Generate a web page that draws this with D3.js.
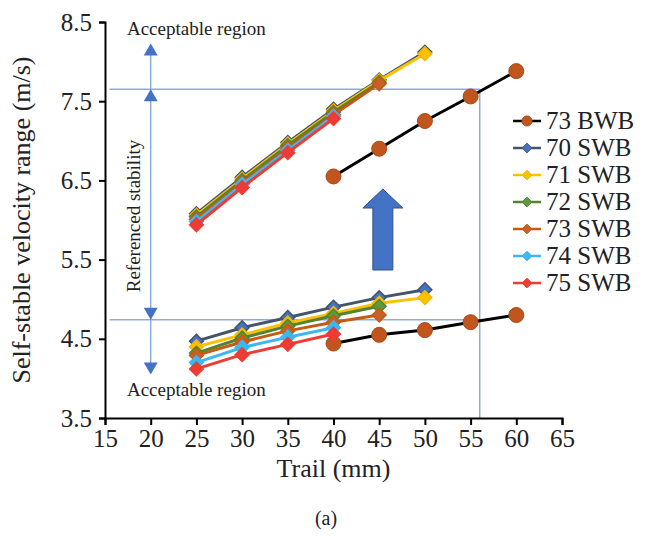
<!DOCTYPE html>
<html>
<head>
<meta charset="utf-8">
<script src="https://cdn.jsdelivr.net/npm/d3@7"></script>
<style>
  body { margin: 0; background: #fff; }
  svg text { font-family: "Liberation Serif", "DejaVu Serif", serif !important; }
</style>
</head>
<body>
<div id="chart"></div>
<script>
// trail values (mm)
var trailSWB = [25, 30, 35, 40, 45, 50];
var trailBWB = [40, 45, 50, 55, 60];

var seriesNames = ["73 BWB", "70 SWB", "71 SWB", "72 SWB", "73 SWB", "74 SWB", "75 SWB"];

// upper / lower bound of self-stable velocity (m/s)
var bwbHigh   = [6.55, 6.90, 7.25, 7.56, 7.88];
var bwbLow    = [4.44, 4.55, 4.61, 4.71, 4.80];
var swb70High = [6.08, 6.54, 6.98, 7.40, 7.77, 8.12];
var swb70Low  = [4.47, 4.64, 4.77, 4.90, 5.02, 5.12];
var swb71High = [6.06, 6.52, 6.96, 7.38, 7.76, 8.10];
var swb71Low  = [4.40, 4.55, 4.70, 4.82, 4.95, 5.02];
var swb72High = [6.04, 6.50, 6.94, 7.36, 7.74];
var swb72Low  = [4.32, 4.51, 4.66, 4.79, 4.91];
var swb73High = [6.01, 6.47, 6.91, 7.33, 7.72];
var swb73Low  = [4.29, 4.46, 4.60, 4.71, 4.80];
var swb74High = [5.98, 6.45, 6.88, 7.31];
var swb74Low  = [4.20, 4.39, 4.52, 4.64];
var swb75High = [5.94, 6.41, 6.85, 7.28];
var swb75Low  = [4.12, 4.30, 4.43, 4.56];

var xTicks = [15, 20, 25, 30, 35, 40, 45, 50, 55, 60, 65];
var yTicks = [3.5, 4.5, 5.5, 6.5, 7.5, 8.5];

// reference lines
var refHigh = 7.65, refLow = 4.74, refTrail = 56, refStart = 15.5;
var arrowTrail = 20, arrowTop = 8.23, arrowBottom = 4.05;

var styles = [
  {line: "#000000", fill: "#C0561E", stroke: "#A94A18", shape: "circle"},
  {line: "#44546A", fill: "#4472C4", stroke: "#44546A", shape: "diamond"},
  {line: "#FFC000", fill: "#FFC000", stroke: "#F2B800", shape: "diamond"},
  {line: "#548235", fill: "#5A9A3A", stroke: "#548235", shape: "diamond"},
  {line: "#C55A11", fill: "#C8602A", stroke: "#C55A11", shape: "diamond"},
  {line: "#3DB7F2", fill: "#3DB7F2", stroke: "#3DB7F2", shape: "diamond"},
  {line: "#EE3B33", fill: "#EE3B33", stroke: "#EE3B33", shape: "diamond"}
];

var seriesData = [
  [trailBWB, bwbHigh, bwbLow],
  [trailSWB, swb70High, swb70Low],
  [trailSWB, swb71High, swb71Low],
  [trailSWB, swb72High, swb72Low],
  [trailSWB, swb73High, swb73Low],
  [trailSWB, swb74High, swb74Low],
  [trailSWB, swb75High, swb75Low]
];

var W = 653, H = 536;
var svg = d3.select("#chart").append("svg")
    .attr("width", W).attr("height", H)
    .attr("font-family", "Liberation Serif");

var x = d3.scaleLinear().domain([15, 65]).range([105, 562]);
var y = d3.scaleLinear().domain([3.5, 8.5]).range([418, 22]);

var refColor = "#8FAADC";

// reference lines
svg.append("line")
  .attr("x1", x(refStart)).attr("x2", x(refTrail))
  .attr("y1", y(refHigh)).attr("y2", y(refHigh))
  .attr("stroke", refColor).attr("stroke-width", 1.5);
svg.append("line")
  .attr("x1", x(refStart)).attr("x2", x(refTrail))
  .attr("y1", y(refLow)).attr("y2", y(refLow))
  .attr("stroke", refColor).attr("stroke-width", 1.5);
svg.append("line")
  .attr("x1", x(refTrail)).attr("x2", x(refTrail))
  .attr("y1", y(refHigh)).attr("y2", y(3.5))
  .attr("stroke", refColor).attr("stroke-width", 1.5);

// vertical arrow with four heads
svg.append("line")
  .attr("x1", x(arrowTrail)).attr("x2", x(arrowTrail))
  .attr("y1", y(arrowTop) + 4).attr("y2", y(arrowBottom) - 4)
  .attr("stroke", refColor).attr("stroke-width", 1.5);
function head(tipY, dir) {
  var cx = x(arrowTrail), h = 12 * dir, w = 7;
  svg.append("path")
    .attr("d", "M" + cx + "," + tipY + " L" + (cx - w) + "," + (tipY + h) + " L" + (cx + w) + "," + (tipY + h) + "Z")
    .attr("fill", "#4472C4");
}
head(y(arrowTop), 1);
head(y(refHigh), 1);
head(y(refLow), -1);
head(y(arrowBottom), -1);

svg.append("text")
  .attr("x", x(17.4)).attr("y", y(8.33))
  .attr("font-size", 19).attr("fill", "#222")
  .text("Acceptable region");
svg.append("text")
  .attr("x", x(17.4)).attr("y", y(3.78))
  .attr("font-size", 19).attr("fill", "#222")
  .text("Acceptable region");
svg.append("text")
  .attr("transform", "translate(" + (x(18.85)) + "," + y(6.05) + ") rotate(-90)")
  .attr("text-anchor", "middle")
  .attr("font-size", 19).attr("fill", "#222")
  .text("Referenced stability");

// big blue arrow
var ax = x(45.4), tipY = 189, baseHead = 208, bot = 270;
svg.append("path")
  .attr("d", "M" + ax + "," + tipY +
    " L" + (ax + 20) + "," + baseHead +
    " L" + (ax + 10) + "," + baseHead +
    " L" + (ax + 10) + "," + bot +
    " L" + (ax - 10) + "," + bot +
    " L" + (ax - 10) + "," + baseHead +
    " L" + (ax - 20) + "," + baseHead + "Z")
  .attr("fill", "#4472C4").attr("stroke", "#2F528F").attr("stroke-width", 1);

// axes
var xAxis = svg.append("g")
  .attr("transform", "translate(0," + y(3.5) + ")")
  .call(d3.axisBottom(x).tickValues(xTicks).tickSize(7).tickPadding(4).tickFormat(d3.format("d")));
var yAxis = svg.append("g")
  .attr("transform", "translate(" + x(15) + ",0)")
  .call(d3.axisLeft(y).tickValues(yTicks).tickSize(6).tickPadding(7).tickFormat(d3.format(".1f")));
[xAxis, yAxis].forEach(function(a) {
  a.attr("font-family", "Liberation Serif");
  a.select(".domain").attr("stroke", "#000").attr("stroke-width", 2);
  a.selectAll(".tick line").attr("stroke", "#000").attr("stroke-width", 2);
  a.selectAll(".tick text")
    .attr("font-size", 25).attr("fill", "#222");
});

svg.append("text")
  .attr("x", (x(15) + x(65)) / 2).attr("y", 477)
  .attr("text-anchor", "middle").attr("font-size", 26).attr("fill", "#222")
  .text("Trail (mm)");
svg.append("text")
  .attr("transform", "translate(30," + ((y(3.5) + y(8.5)) / 2) + ") rotate(-90)")
  .attr("text-anchor", "middle").attr("font-size", 26).attr("fill", "#222")
  .text("Self-stable velocity range (m/s)");
svg.append("text")
  .attr("x", 326).attr("y", 525)
  .attr("text-anchor", "middle").attr("font-size", 20).attr("fill", "#222")
  .text("(a)");

// series
var line = d3.line().x(function(d) { return x(d[0]); }).y(function(d) { return y(d[1]); });
var diamond = d3.symbol().type(d3.symbolDiamond2).size(120);

function marker(g, st, px, py) {
  if (st.shape === "circle") {
    g.append("circle").attr("cx", px).attr("cy", py).attr("r", 7.5)
      .attr("fill", st.fill).attr("stroke", st.stroke).attr("stroke-width", 1);
  } else {
    g.append("path").attr("d", diamond)
      .attr("transform", "translate(" + px + "," + py + ")")
      .attr("fill", st.fill).attr("stroke", st.stroke).attr("stroke-width", 1.5);
  }
}

seriesData.forEach(function(s, i) {
  var st = styles[i];
  var g = svg.append("g");
  [s[1], s[2]].forEach(function(vals) {
    var pts = s[0].slice(0, vals.length).map(function(t, k) { return [t, vals[k]]; });
    g.append("path").datum(pts)
      .attr("d", line).attr("fill", "none")
      .attr("stroke", st.line).attr("stroke-width", 3);
    pts.forEach(function(p) { marker(g, st, x(p[0]), y(p[1])); });
  });
});

// legend
var lg = svg.append("g");
seriesNames.forEach(function(name, i) {
  var cy = 121 + i * 27;
  var st = styles[i];
  lg.append("line").attr("x1", 513).attr("x2", 541).attr("y1", cy).attr("y2", cy)
    .attr("stroke", st.line).attr("stroke-width", 2.5);
  if (st.shape === "circle") {
    lg.append("circle").attr("cx", 527).attr("cy", cy).attr("r", 5)
      .attr("fill", st.fill).attr("stroke", st.stroke);
  } else {
    lg.append("path").attr("d", d3.symbol().type(d3.symbolDiamond2).size(60))
      .attr("transform", "translate(527," + cy + ")")
      .attr("fill", st.fill).attr("stroke", st.stroke);
  }
  lg.append("text").attr("x", 546).attr("y", cy + 8)
    .attr("font-size", 25).attr("fill", "#222")
    .text(name);
});
</script>
</body>
</html>
